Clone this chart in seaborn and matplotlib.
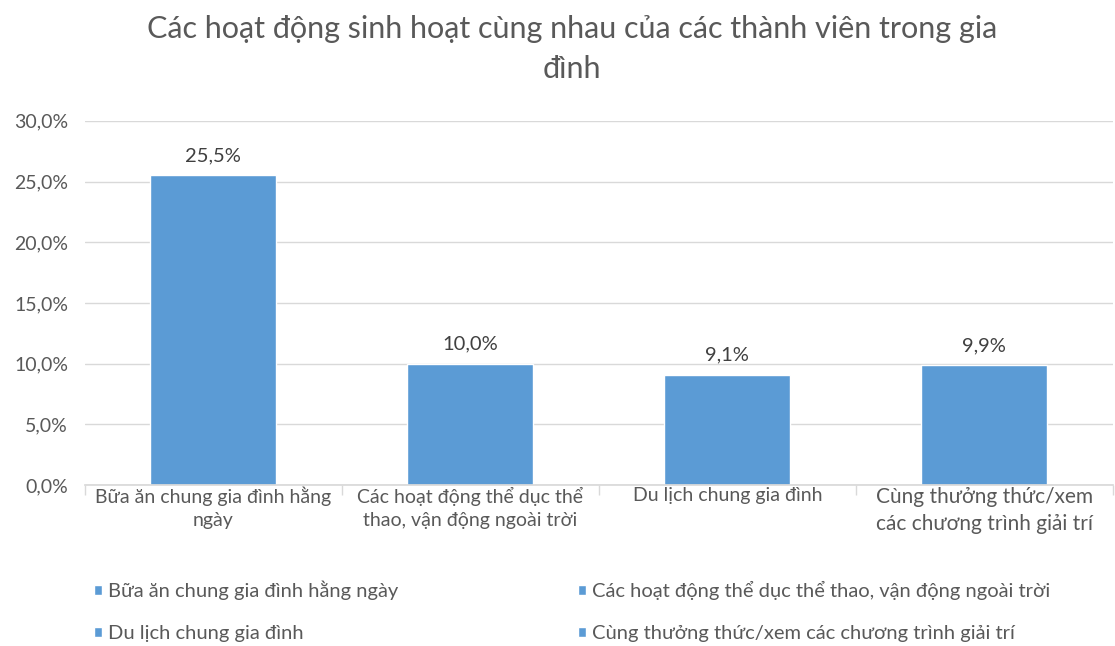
import pandas as pd
import numpy as np
import matplotlib
matplotlib.use("Agg")
import matplotlib.pyplot as plt
import seaborn as sns
from matplotlib.ticker import FuncFormatter

# Data
categories = [
    "Bữa ăn chung gia đình hằng ngày",
    "Các hoạt động thể dục thể thao, vận động ngoài trời",
    "Du lịch chung gia đình",
    "Cùng thưởng thức/xem các chương trình giải trí",
]
tick_labels = [
    "Bữa ăn chung gia đình hằng\nngày",
    "Các hoạt động thể dục thể\nthao, vận động ngoài trời",
    "Du lịch chung gia đình",
    "Cùng thưởng thức/xem\ncác chương trình giải trí",
]
values = [25.5, 10.0, 9.1, 9.9]

title = "Các hoạt động sinh hoạt cùng nhau của các thành viên trong gia\nđình"

bar_color = "#5B9BD5"
text_color = "#595959"

sns.set_theme(style="white")
plt.rcParams["font.family"] = ["Lato", "DejaVu Sans"]

df = pd.DataFrame({"category": categories, "value": values})

fig = plt.figure(figsize=(11.15, 6.46), dpi=100)
ax = fig.add_axes([0.076, 0.249, 0.922, 0.564])

sns.barplot(data=df, x="category", y="value", hue="category",
            palette=[bar_color] * 4, width=0.49, ax=ax, legend=True,
            saturation=1)

ax.set_ylim(0, 30)
ax.set_yticks(np.arange(0, 31, 5))
ax.yaxis.set_major_formatter(FuncFormatter(lambda v, p: f"{v:.1f}%".replace(".", ",")))
ax.yaxis.grid(True, color="#D9D9D9", linewidth=1)
ax.set_axisbelow(True)
for s in ["top", "right", "left"]:
    ax.spines[s].set_visible(False)
ax.spines["bottom"].set_color("#D9D9D9")
ax.set_xlim(-0.5, 3.5)

# category labels between separator ticks
ax.set_xticks(range(4))
ax.set_xticklabels(tick_labels, linespacing=1.45)
ax.tick_params(axis="x", length=0, pad=1, labelcolor=text_color, labelsize=14)
ax.tick_params(axis="y", length=0, pad=12, labelcolor=text_color, labelsize=14)
ax.get_xticklabels()[3].set_fontsize(15)
ax.set_xticks(np.arange(-0.5, 4, 1), minor=True)
ax.tick_params(axis="x", which="minor", length=7, color="#D9D9D9", width=1,
               bottom=True)
ax.set_xlabel("")
ax.set_ylabel("")

for i, v in enumerate(values):
    ax.text(i, v + 0.9, f"{v:.1f}%".replace(".", ","), ha="center", va="bottom",
            fontsize=14.5, color="#404040")

fig.text(0.513, 0.924, title, ha="center", va="center", fontsize=22,
         color=text_color, linespacing=1.55)

handles, labels = ax.get_legend_handles_labels()
ax.get_legend().remove()
order = [0, 2, 1, 3]
fig.legend([handles[i] for i in order], [labels[i] for i in order],
           ncol=2, loc="lower left", bbox_to_anchor=(0.068, -0.022),
           frameon=False, fontsize=14.5, labelcolor=text_color,
           handlelength=0.4, handleheight=0.4, handletextpad=0.3,
           columnspacing=8.9, labelspacing=1.25)

fig.savefig("out.png", dpi=100)
